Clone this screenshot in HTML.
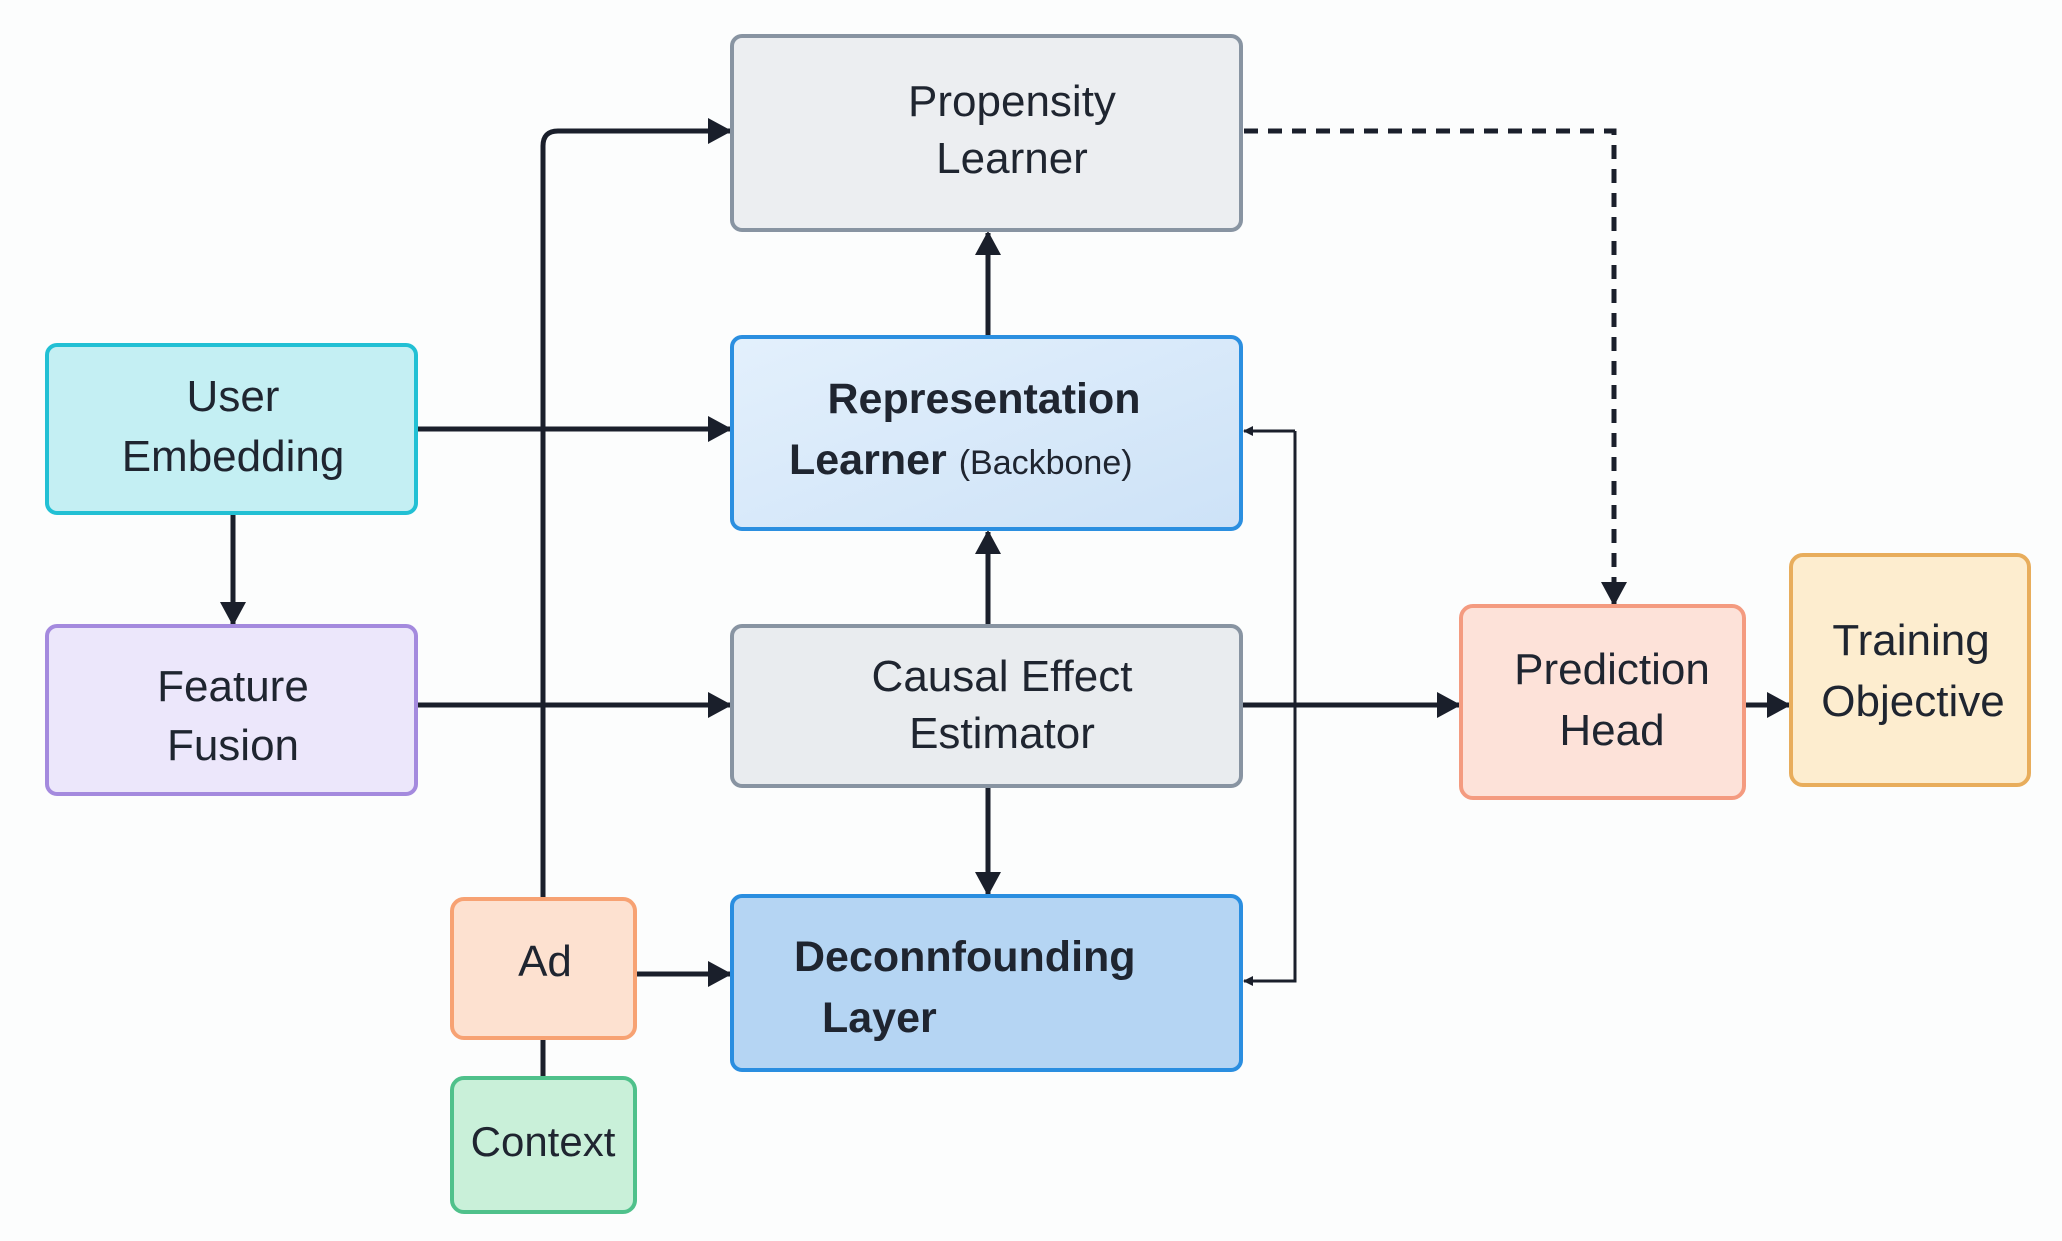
<!DOCTYPE html>
<html><head><meta charset="utf-8"><style>
html,body{margin:0;padding:0;background:#fcfdfd;}
svg{display:block;}
text{font-family:"Liberation Sans",sans-serif;fill:#1f2530;text-anchor:middle;}
</style></head><body>
<svg width="2062" height="1241" viewBox="0 0 2062 1241" xmlns="http://www.w3.org/2000/svg">
<defs>
<marker id="a" markerWidth="10" markerHeight="10" refX="9" refY="5" orient="auto" markerUnits="userSpaceOnUse" viewBox="0 0 10 10"><path d="M0,0 L10,5 L0,10 z" fill="#1a1f2b"/></marker>
<marker id="A" markerWidth="24" markerHeight="26" refX="22" refY="13" orient="auto" markerUnits="userSpaceOnUse"><path d="M0,0 L24,13 L0,26 z" fill="#1a1f2b"/></marker>
<linearGradient id="rg" x1="0" y1="0" x2="1" y2="1"><stop offset="0" stop-color="#e3f0fc"/><stop offset="1" stop-color="#cde2f7"/></linearGradient>
</defs>

<!-- connectors -->
<g stroke="#1a1f2b" fill="none" stroke-width="5">
<path d="M543,899 L543,146 Q543,131 558,131 L730,131" marker-end="url(#A)"/>
<path d="M416,429 L730,429" marker-end="url(#A)"/>
<path d="M416,705 L730,705" marker-end="url(#A)"/>
<path d="M233,513 L233,624" marker-end="url(#A)"/>
<path d="M988,337 L988,233" marker-end="url(#A)"/>
<path d="M988,626 L988,532" marker-end="url(#A)"/>
<path d="M988,786 L988,894" marker-end="url(#A)"/>
<path d="M635,974 L730,974" marker-end="url(#A)"/>
<path d="M543,1038 L543,1078"/>
<path d="M1241,705 L1459,705" marker-end="url(#A)"/>
<path d="M1744,705 L1789,705" marker-end="url(#A)"/>
<path d="M1244,131 L1614,131 L1614,604" stroke-dasharray="14,10" marker-end="url(#A)"/>
</g>
<g stroke="#1a1f2b" fill="none" stroke-width="3">
<path d="M1295,431 L1295,981 L1244,981" marker-end="url(#a)"/>
<path d="M1295,431 L1244,431" marker-end="url(#a)"/>
</g>

<!-- boxes -->
<g stroke-width="4">
<rect x="732" y="36" width="509" height="194" rx="10" fill="#eceef1" stroke="#8894a2"/>
<rect x="732" y="337" width="509" height="192" rx="10" fill="url(#rg)" stroke="#2b8fe0"/>
<rect x="47" y="345" width="369" height="168" rx="10" fill="#c4eff3" stroke="#22c0d4"/>
<rect x="47" y="626" width="369" height="168" rx="10" fill="#ece7fb" stroke="#a48ade"/>
<rect x="732" y="626" width="509" height="160" rx="10" fill="#e9ecef" stroke="#8894a2"/>
<rect x="732" y="896" width="509" height="174" rx="10" fill="#b5d5f3" stroke="#2a8ee0"/>
<rect x="452" y="899" width="183" height="139" rx="12" fill="#fde1d0" stroke="#f7a273"/>
<rect x="452" y="1078" width="183" height="134" rx="12" fill="#c9f0d9" stroke="#4fc18b"/>
<rect x="1461" y="606" width="283" height="192" rx="12" fill="#fde2d9" stroke="#f49b80"/>
<rect x="1791" y="555" width="238" height="230" rx="12" fill="#fdedcf" stroke="#e8ad5c"/>
</g>

<!-- labels -->
<g font-size="44">
<text x="1012" y="116">Propensity</text>
<text x="1012" y="173">Learner</text>
<text x="984" y="413" font-weight="bold" font-size="43">Representation</text>
<text x="789" y="474" font-weight="bold" font-size="43" style="text-anchor:start">Learner <tspan font-weight="normal" font-size="34">(Backbone)</tspan></text>
<text x="233" y="411">User</text>
<text x="233" y="471">Embedding</text>
<text x="233" y="701">Feature</text>
<text x="233" y="760">Fusion</text>
<text x="1002" y="691">Causal Effect</text>
<text x="1002" y="748">Estimator</text>
<text x="794" y="971" font-weight="bold" font-size="43" style="text-anchor:start">Deconnfounding</text>
<text x="822" y="1032" font-weight="bold" font-size="43" style="text-anchor:start">Layer</text>
<text x="545" y="976">Ad</text>
<text x="543" y="1156" font-size="42">Context</text>
<text x="1612" y="684">Prediction</text>
<text x="1612" y="745">Head</text>
<text x="1911" y="655">Training</text>
<text x="1913" y="716">Objective</text>
</g>
</svg>
</body></html>
